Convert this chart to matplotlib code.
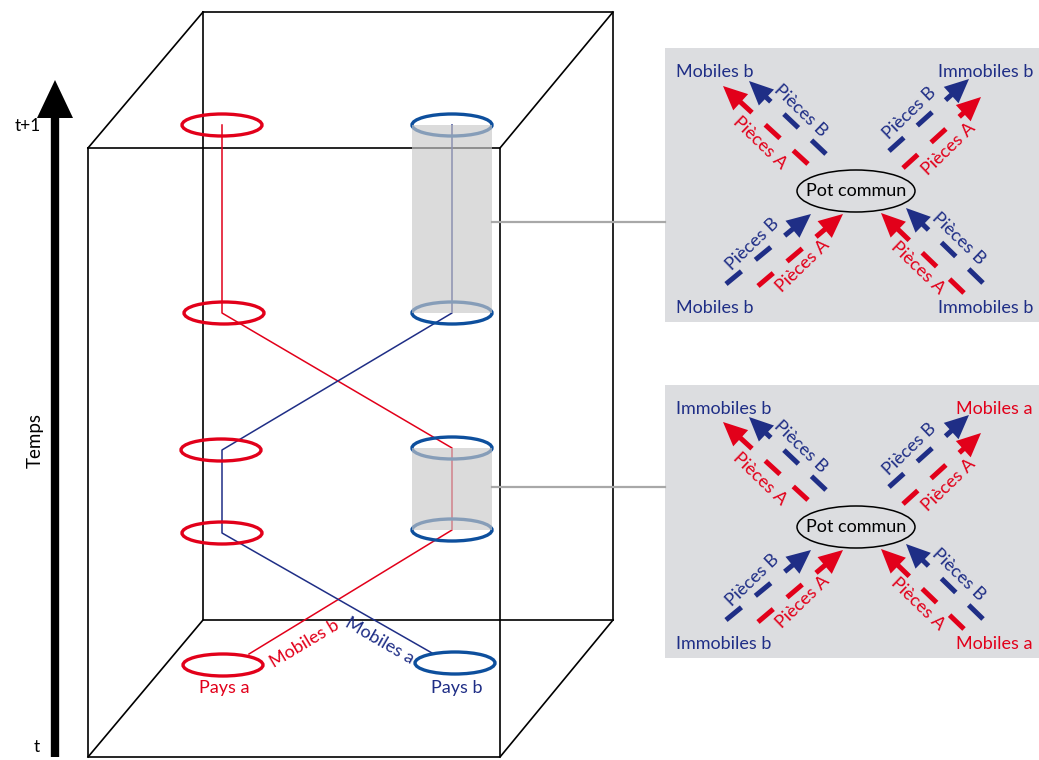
import matplotlib.pyplot as plt
import numpy as np
from matplotlib.patches import Ellipse, Rectangle, Polygon

plt.rcParams['font.family'] = ['Lato', 'DejaVu Sans']

RED = '#e2001a'
NAVY = '#1f2e86'
RING_BLUE = '#0d4f9d'
PANEL_GREY = '#dcdde0'

# cube, pixel coords (y down): left, top, right, bottom
front = (88, 148, 500, 757)
back = (203, 12, 613, 620)

# rings of country a (red) and country b (blue)
ring_w, ring_h = 80, 22
red_ring_x = [222, 224, 221, 222, 223]
red_ring_y = [125, 313, 450, 533, 665]
blue_ring_x = [452, 452, 452, 452, 455]
blue_ring_y = [125, 313, 448, 530, 663]

# trajectories of the mobile factors
red_path_x = [222, 222, 452, 452, 249]
red_path_y = [125, 313, 448, 530, 654]
blue_path_x = [432, 222, 222, 452, 452]
blue_path_y = [653, 533, 450, 313, 125]

# common pots (cylinders): top, bottom
cylinders = [(125, 313), (448, 530)]
connector_y = [222, 487]

# panels
panel_x = (665, 1045)
panel_y = [(48, 322), (385, 658)]
pot_x = 856
pot_y = [191, 527]
corner_labels = [
    [('Mobiles b', NAVY), ('Immobiles b', NAVY), ('Mobiles b', NAVY), ('Immobiles b', NAVY)],
    [('Immobiles b', NAVY), ('Mobiles a', RED), ('Immobiles b', NAVY), ('Mobiles a', RED)],
]

# arrows around the pot: tip (dx, dy), tail (dx, dy), colour
arrows = [
    ((-133, -105), (-48, -27), RED),
    ((-107, -110), (-30, -37), NAVY),
    ((113, -112), (33, -40), NAVY),
    ((125, -94), (47, -23), RED),
    ((-45, 23), (-130, 93), NAVY),
    ((-13, 23), (-98, 95), RED),
    ((25, 22), (108, 102), RED),
    ((50, 17), (127, 92), NAVY),
]
piece_labels = [
    (-96, -48, 'Pièces A', RED, -44),
    (-56, -80, 'Pièces B', NAVY, -44),
    (54, -78, 'Pièces B', NAVY, 44),
    (93, -42, 'Pièces A', RED, 44),
    (-103, 53, 'Pièces B', NAVY, 44),
    (-53, 75, 'Pièces A', RED, 44),
    (62, 77, 'Pièces A', RED, -44),
    (102, 48, 'Pièces B', NAVY, -44),
]


def draw_arrow(ax, tail, tip, color):
    tail = np.array(tail, float)
    tip = np.array(tip, float)
    L = np.linalg.norm(tip - tail)
    u = (tip - tail) / L
    n = np.array([-u[1], u[0]])
    head_len, half_w = 24, 11
    segs = [(0, 20), (38, 58), (76, L - head_len + 2)]
    for a, b in segs:
        p, q = tail + u * a, tail + u * b
        ax.plot([p[0], q[0]], [p[1], q[1]], color=color, lw=3.6,
                solid_capstyle='butt', zorder=5)
    base = tip - u * head_len
    ax.add_patch(Polygon([tip, base + n * half_w, base - n * half_w],
                         closed=True, color=color, lw=0, zorder=5))


fig = plt.figure(figsize=(10.39, 7.60), dpi=100)
ax = fig.add_axes([0, 0, 1, 1])
ax.set_xlim(0, 1039)
ax.set_ylim(760, 0)
ax.axis('off')

# time arrow
ax.plot([55, 55], [757, 112], color='black', lw=6, solid_capstyle='butt')
ax.add_patch(Polygon([(55, 80), (37, 118), (73, 118)], closed=True, color='black', lw=0))
ax.text(28, 126, 't+1', fontsize=12.5, ha='center', va='center')
ax.text(37, 747, 't', fontsize=12.5, ha='center', va='center')
ax.text(35, 440, 'Temps', fontsize=13.5, rotation=90, ha='center', va='center')

# cube
fl, ft, fr, fb = front
bl, bt, br, bb = back
lw_box = 1.2
ax.plot([fl, fr, fr, fl, fl], [ft, ft, fb, fb, ft], color='black', lw=lw_box, zorder=1)
ax.plot([bl, br, br], [bt, bt, bb], color='black', lw=lw_box, zorder=1)
ax.plot([bl, bl, br], [bt, bb, bb], color='black', lw=lw_box, zorder=1)
for (x0, y0), (x1, y1) in [((fl, ft), (bl, bt)), ((fr, ft), (br, bt)),
                           ((fl, fb), (bl, bb)), ((fr, fb), (br, bb))]:
    ax.plot([x0, x1], [y0, y1], color='black', lw=lw_box, zorder=1)

# trajectories
ax.plot(red_path_x, red_path_y, color=RED, lw=1.1, zorder=2)
ax.plot(blue_path_x, blue_path_y, color=NAVY, lw=1.1, zorder=2)

# rings
for x, y in zip(red_ring_x, red_ring_y):
    ax.add_patch(Ellipse((x, y), ring_w, ring_h, fill=False, ec=RED, lw=2.4, zorder=3))
for x, y in zip(blue_ring_x, blue_ring_y):
    ax.add_patch(Ellipse((x, y), ring_w, ring_h, fill=False, ec=RING_BLUE, lw=2.4, zorder=3))

# cylinders
for top, bot in cylinders:
    ax.add_patch(Rectangle((412, top), 80, bot - top, color='#c8c8c8', alpha=0.65,
                           lw=0, zorder=4))

ax.text(224, 688, 'Pays a', color=RED, fontsize=13, ha='center', va='center')
ax.text(457, 688, 'Pays b', color=NAVY, fontsize=13, ha='center', va='center')
ax.text(305, 644, 'Mobiles b', color=RED, fontsize=13, rotation=31,
        ha='center', va='center', rotation_mode='anchor')
ax.text(380, 641, 'Mobiles a', color=NAVY, fontsize=13, rotation=-30,
        ha='center', va='center', rotation_mode='anchor')

# panels
for k in range(2):
    y0, y1 = panel_y[k]
    cy = pot_y[k]
    ax.plot([492, panel_x[0]], [connector_y[k]] * 2, color='#a8a8a8', lw=1.6, zorder=4)
    ax.add_patch(Rectangle((panel_x[0], y0), panel_x[1] - panel_x[0], y1 - y0,
                           color=PANEL_GREY, lw=0, zorder=1))
    ax.add_patch(Ellipse((pot_x, cy), 118, 42, fill=False, ec='black', lw=1.1, zorder=5))
    ax.text(pot_x, cy, 'Pot commun', fontsize=13, ha='center', va='center', zorder=6)
    (tl, tr, bl_, br_) = corner_labels[k]
    ax.text(676, y0 + 24, tl[0], color=tl[1], fontsize=13, ha='left', va='center')
    ax.text(1033, y0 + 24, tr[0], color=tr[1], fontsize=13, ha='right', va='center')
    ax.text(676, y1 - 14, bl_[0], color=bl_[1], fontsize=13, ha='left', va='center')
    ax.text(1033, y1 - 14, br_[0], color=br_[1], fontsize=13, ha='right', va='center')
    for tip, tail, col in arrows:
        draw_arrow(ax, (pot_x + tail[0], cy + tail[1]), (pot_x + tip[0], cy + tip[1]), col)
    for dx, dy, txt, col, rot in piece_labels:
        ax.text(pot_x + dx, cy + dy, txt, color=col, fontsize=13, rotation=rot,
                ha='center', va='center', rotation_mode='anchor')

fig.savefig('out.png', dpi=100)
